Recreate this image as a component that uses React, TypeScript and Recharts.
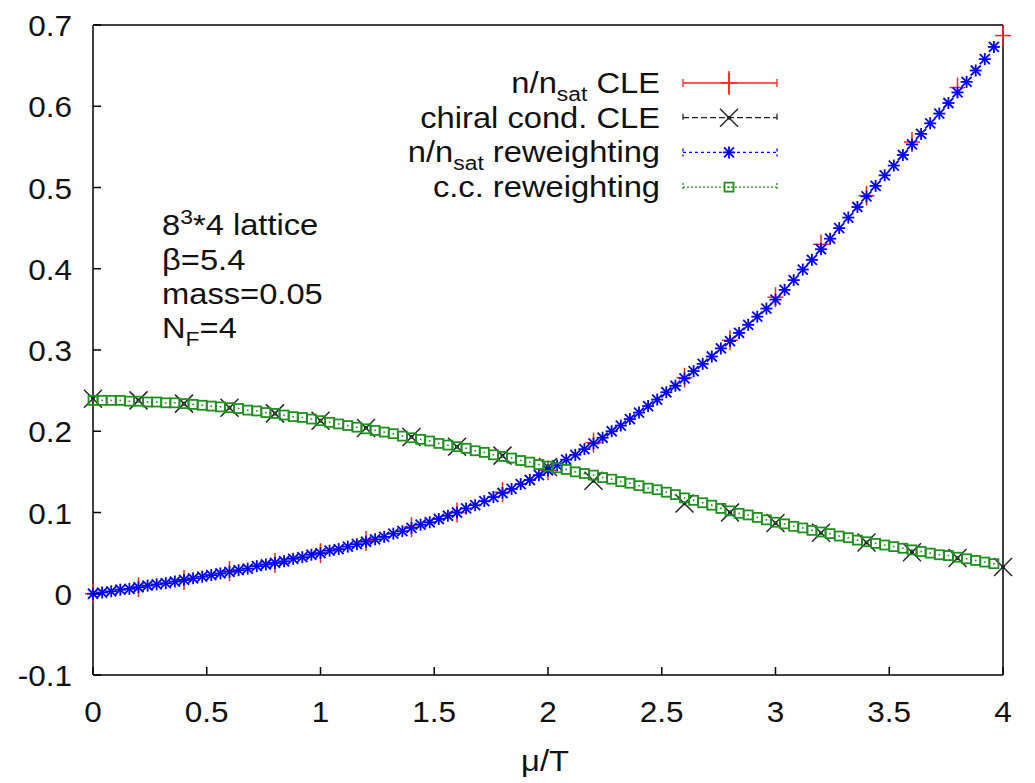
import { ScatterChart, Scatter, XAxis, YAxis } from 'recharts';

const FONT = '"Liberation Sans", Arial, Helvetica, sans-serif';
const SX = 1.05;
const SX_TEXT = 1.09;

// reweighting curves (fine grid in mu/T)
const muFine = [
  0, 0.04, 0.08, 0.12, 0.16, 0.2, 0.24, 0.28, 0.32, 0.36,
  0.4, 0.44, 0.48, 0.52, 0.56, 0.6, 0.64, 0.68, 0.72, 0.76,
  0.8, 0.84, 0.88, 0.92, 0.96, 1.0, 1.04, 1.08, 1.12, 1.16,
  1.2, 1.24, 1.28, 1.32, 1.36, 1.4, 1.44, 1.48, 1.52, 1.56,
  1.6, 1.64, 1.68, 1.72, 1.76, 1.8, 1.84, 1.88, 1.92, 1.96,
  2.0, 2.04, 2.08, 2.12, 2.16, 2.2, 2.24, 2.28, 2.32, 2.36,
  2.4, 2.44, 2.48, 2.52, 2.56, 2.6, 2.64, 2.68, 2.72, 2.76,
  2.8, 2.84, 2.88, 2.92, 2.96, 3.0, 3.04, 3.08, 3.12, 3.16,
  3.2, 3.24, 3.28, 3.32, 3.36, 3.4, 3.44, 3.48, 3.52, 3.56,
  3.6, 3.64, 3.68, 3.72, 3.76, 3.8, 3.84, 3.88, 3.92, 3.96,
];

const nRew = [
  0.0, 0.0015, 0.003, 0.005, 0.006, 0.008, 0.01, 0.0115, 0.013, 0.015,
  0.017, 0.019, 0.021, 0.023, 0.025, 0.027, 0.029, 0.031, 0.034, 0.036,
  0.038, 0.04, 0.043, 0.045, 0.048, 0.05, 0.053, 0.055, 0.058, 0.061,
  0.064, 0.067, 0.07, 0.074, 0.077, 0.081, 0.085, 0.088, 0.092, 0.096,
  0.1, 0.105, 0.109, 0.114, 0.119, 0.124, 0.129, 0.135, 0.14, 0.146,
  0.152, 0.158, 0.165, 0.171, 0.178, 0.185, 0.192, 0.2, 0.207, 0.215,
  0.223, 0.231, 0.239, 0.248, 0.256, 0.265, 0.274, 0.283, 0.292, 0.302,
  0.311, 0.321, 0.331, 0.341, 0.351, 0.362, 0.374, 0.386, 0.399, 0.411,
  0.424, 0.437, 0.45, 0.463, 0.476, 0.489, 0.502, 0.515, 0.527, 0.54,
  0.553, 0.566, 0.579, 0.591, 0.604, 0.617, 0.63, 0.644, 0.658, 0.673,
];

const ccRew = [
  0.238, 0.238, 0.238, 0.238, 0.237, 0.237, 0.236, 0.236, 0.235, 0.235,
  0.234, 0.233, 0.232, 0.231, 0.23, 0.229, 0.228, 0.226, 0.225, 0.223,
  0.222, 0.22, 0.218, 0.217, 0.215, 0.213, 0.211, 0.209, 0.207, 0.205,
  0.203, 0.201, 0.199, 0.197, 0.194, 0.192, 0.19, 0.188, 0.185, 0.183,
  0.181, 0.179, 0.176, 0.174, 0.171, 0.169, 0.167, 0.164, 0.162, 0.159,
  0.157, 0.155, 0.153, 0.15, 0.148, 0.146, 0.143, 0.141, 0.138, 0.136,
  0.133, 0.13, 0.128, 0.125, 0.122, 0.118, 0.115, 0.112, 0.109, 0.105,
  0.102, 0.099, 0.097, 0.094, 0.091, 0.088, 0.086, 0.083, 0.081, 0.078,
  0.076, 0.074, 0.071, 0.069, 0.066, 0.064, 0.062, 0.06, 0.058, 0.056,
  0.054, 0.052, 0.05, 0.048, 0.047, 0.045, 0.043, 0.041, 0.039, 0.037,
];

// complex Langevin points (no run at 2.4)
const muCle = [0, 0.2, 0.4, 0.6, 0.8, 1.0, 1.2, 1.4, 1.6, 1.8, 2.0, 2.2, 2.6, 2.8, 3.0, 3.2, 3.4, 3.6, 3.8, 4.0];
const nCle = [0.0, 0.008, 0.017, 0.028, 0.038, 0.05, 0.065, 0.082, 0.1, 0.125, 0.152, 0.186, 0.266, 0.312, 0.365, 0.43, 0.49, 0.556, 0.623, 0.687];
const ccCle = [0.24, 0.238, 0.234, 0.229, 0.222, 0.213, 0.204, 0.193, 0.181, 0.17, 0.156, 0.139, 0.111, 0.1, 0.087, 0.075, 0.063, 0.051, 0.044, 0.033];

const xTicks = [0, 0.5, 1, 1.5, 2, 2.5, 3, 3.5, 4];
const xTickLabels = ['0', '0.5', '1', '1.5', '2', '2.5', '3', '3.5', '4'];
const yTicks = [-0.1, 0, 0.1, 0.2, 0.3, 0.4, 0.5, 0.6, 0.7];
const yTickLabels = ['-0.1', '0', '0.1', '0.2', '0.3', '0.4', '0.5', '0.6', '0.7'];

const toPoints = (xs: number[], ys: number[]) => xs.map((mu, i) => ({ mu, v: ys[i] }));

const RED = '#ff2020';
const BLACK = '#222222';
const BLUE = '#0000ff';
const GREEN = '#1f8f1f';

function PlusMark({ cx, cy }: any) {
  return (
    <g stroke={RED} strokeWidth={1.5}>
      <line x1={cx - 8} y1={cy} x2={cx + 8} y2={cy} />
      <line x1={cx} y1={cy - 10} x2={cx} y2={cy + 10} />
    </g>
  );
}

function CrossMark({ cx, cy }: any) {
  return (
    <g stroke={BLACK} strokeWidth={1.5}>
      <line x1={cx - 9} y1={cy - 9} x2={cx + 9} y2={cy + 9} />
      <line x1={cx - 9} y1={cy + 9} x2={cx + 9} y2={cy - 9} />
      <circle cx={cx} cy={cy} r={2} fill={BLACK} stroke="none" />
    </g>
  );
}

function StarMark({ cx, cy }: any) {
  return (
    <g stroke={BLUE} strokeWidth={1.8}>
      <line x1={cx - 6} y1={cy} x2={cx + 6} y2={cy} />
      <line x1={cx} y1={cy - 6} x2={cx} y2={cy + 6} />
      <line x1={cx - 5} y1={cy - 5} x2={cx + 5} y2={cy + 5} />
      <line x1={cx - 5} y1={cy + 5} x2={cx + 5} y2={cy - 5} />
    </g>
  );
}

function SquareMark({ cx, cy }: any) {
  return (
    <g>
      <rect x={cx - 4.5} y={cy - 4.5} width={9} height={9} fill="none" stroke={GREEN} strokeWidth={1.8} />
      <rect x={cx - 0.8} y={cy - 0.8} width={1.6} height={1.6} fill={GREEN} />
    </g>
  );
}

function BottomTick({ x, y, index }: any) {
  return (
    <g>
      <line x1={x} y1={y} x2={x} y2={y - 8} stroke="#000" strokeWidth={1.5} />
      <text transform={`translate(${x} ${y + 47}) scale(${SX} 1)`} textAnchor="middle" fontSize={30} fontFamily={FONT} fill="#111">
        {xTickLabels[index]}
      </text>
    </g>
  );
}

function TopTick({ x, y }: any) {
  return <line x1={x} y1={y} x2={x} y2={y + 8} stroke="#000" strokeWidth={1.5} />;
}

function LeftTick({ x, y, index }: any) {
  return (
    <g>
      <line x1={x} y1={y} x2={x + 8} y2={y} stroke="#000" strokeWidth={1.5} />
      <text transform={`translate(${x - 21} ${y + 11}) scale(${SX} 1)`} textAnchor="end" fontSize={30} fontFamily={FONT} fill="#111">
        {yTickLabels[index]}
      </text>
    </g>
  );
}

function RightTick({ x, y }: any) {
  return <line x1={x} y1={y} x2={x - 8} y2={y} stroke="#000" strokeWidth={1.5} />;
}

const legendRows = [
  { key: 'nCle', main: 'n/n', sub: 'sat', rest: ' CLE', color: RED, dash: undefined, Mark: PlusMark },
  { key: 'ccCle', main: 'chiral cond. CLE', sub: '', rest: '', color: BLACK, dash: '6 3', Mark: CrossMark },
  { key: 'nRew', main: 'n/n', sub: 'sat', rest: ' reweighting', color: BLUE, dash: '3 3', Mark: StarMark },
  { key: 'ccRew', main: 'c.c. reweighting', sub: '', rest: '', color: GREEN, dash: '2 2', Mark: SquareMark },
];

function Overlay() {
  const textProps = { fontSize: 30, fontFamily: FONT, fill: '#111' };
  return (
    <svg width={1035} height={783} style={{ position: 'absolute', left: 0, top: 0, pointerEvents: 'none' }}>
      {legendRows.map((r, i) => {
        const cy = 83 + i * 34.7;
        return (
          <g key={r.key}>
            <text transform={`translate(660 ${cy + 10}) scale(${SX_TEXT} 1)`} textAnchor="end" {...textProps}>
              {r.main}
              {r.sub && <tspan fontSize={21} dy={8}>{r.sub}</tspan>}
              {r.rest && <tspan dy={r.sub ? -8 : 0}>{r.rest}</tspan>}
            </text>
            <g stroke={r.color} strokeWidth={1.3} strokeDasharray={r.dash}>
              <line x1={683} y1={cy} x2={777} y2={cy} />
              <line x1={683} y1={cy - 4} x2={683} y2={cy + 4} />
              <line x1={777} y1={cy - 4} x2={777} y2={cy + 4} />
            </g>
            <r.Mark cx={729} cy={cy} />
            {i === 0 && <line x1={729} y1={cy - 12} x2={729} y2={cy + 12} stroke={RED} strokeWidth={1.5} />}
          </g>
        );
      })}
      <text transform={`translate(162 235) scale(${SX_TEXT} 1)`} {...textProps}>
        8<tspan fontSize={21} dy={-11}>3</tspan>
        <tspan dy={11}>*4 lattice</tspan>
      </text>
      <text transform={`translate(162 270) scale(${SX_TEXT} 1)`} {...textProps}>β=5.4</text>
      <text transform={`translate(162 304) scale(${SX_TEXT} 1)`} {...textProps}>mass=0.05</text>
      <text transform={`translate(162 338) scale(${SX_TEXT} 1)`} {...textProps}>
        N<tspan fontSize={21} dy={8}>F</tspan>
        <tspan dy={-8}>=4</tspan>
      </text>
      <text transform={`translate(545 771) scale(${SX_TEXT} 1)`} textAnchor="middle" {...textProps}>μ/T</text>
    </svg>
  );
}

export default function App() {
  return (
    <div style={{ position: 'absolute', left: 0, top: 0, width: 1035, height: 783, background: '#fff' }}>
      <ScatterChart width={1035} height={783} margin={{ top: 0, right: 0, bottom: 0, left: 0 }}>
        <XAxis
          xAxisId="b"
          dataKey="mu"
          type="number"
          domain={[0, 4]}
          ticks={xTicks}
          interval={0}
          height={108}
          tickSize={0}
          tickMargin={0}
          tick={<BottomTick />}
          axisLine={{ stroke: '#000', strokeWidth: 1.5 }}
        />
        <XAxis
          xAxisId="t"
          orientation="top"
          dataKey="mu"
          type="number"
          domain={[0, 4]}
          ticks={xTicks}
          interval={0}
          height={25}
          tickSize={0}
          tickMargin={0}
          tick={<TopTick />}
          axisLine={{ stroke: '#000', strokeWidth: 1.5 }}
        />
        <YAxis
          yAxisId="l"
          dataKey="v"
          type="number"
          domain={[-0.1, 0.7]}
          ticks={yTicks}
          interval={0}
          width={93}
          tickSize={0}
          tickMargin={0}
          tick={<LeftTick />}
          axisLine={{ stroke: '#000', strokeWidth: 1.5 }}
        />
        <YAxis
          yAxisId="r"
          orientation="right"
          dataKey="v"
          type="number"
          domain={[-0.1, 0.7]}
          ticks={yTicks}
          interval={0}
          width={32}
          tickSize={0}
          tickMargin={0}
          tick={<RightTick />}
          axisLine={{ stroke: '#000', strokeWidth: 1.5 }}
        />
        <Scatter xAxisId="b" yAxisId="l" name="n/nsat CLE" data={toPoints(muCle, nCle)} shape={(p: any) => <PlusMark cx={p.cx} cy={p.cy} />} isAnimationActive={false} />
        <Scatter xAxisId="b" yAxisId="l" name="chiral cond. CLE" data={toPoints(muCle, ccCle)} shape={(p: any) => <CrossMark cx={p.cx} cy={p.cy} />} isAnimationActive={false} />
        <Scatter xAxisId="b" yAxisId="l" name="n/nsat reweighting" data={toPoints(muFine, nRew)} shape={(p: any) => <StarMark cx={p.cx} cy={p.cy} />} isAnimationActive={false} />
        <Scatter xAxisId="b" yAxisId="l" name="c.c. reweighting" data={toPoints(muFine, ccRew)} shape={(p: any) => <SquareMark cx={p.cx} cy={p.cy} />} isAnimationActive={false} />
      </ScatterChart>
      <Overlay />
    </div>
  );
}
